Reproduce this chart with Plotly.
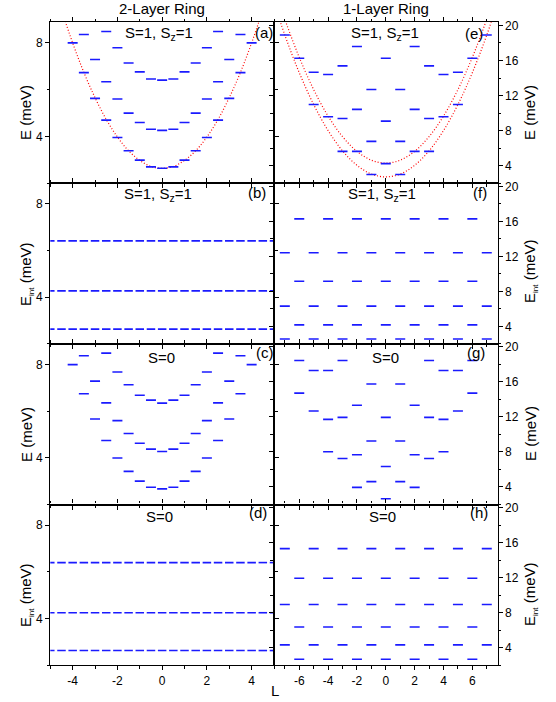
import plotly.graph_objects as go

W, H = 556, 702
BLUE = "#1a1aff"

# ---------------- data ----------------
# 2-layer ring (L in half-integer steps)
L_a1 = [-4, -3.5, -3, -2.5, -2, -1.5, -1, -0.5, 0, 0.5, 1, 1.5, 2, 2.5, 3, 3.5, 4]
L_a2 = [-3.5, -3, -2.5, -2, -1.5, -1, -0.5, 0, 0.5, 1, 1.5, 2, 2.5, 3, 3.5]
L_a3 = [-2.5, -2, -1.5, -1, -0.5, 0, 0.5, 1, 1.5, 2, 2.5]

a_band1 = [8.00, 6.73, 5.63, 4.70, 3.96, 3.39, 2.99, 2.70, 2.64, 2.70, 2.99, 3.39, 3.96, 4.70, 5.63, 6.73, 8.00]
a_band2 = [8.36, 7.29, 6.34, 5.60, 5.00, 4.60, 4.31, 4.26, 4.31, 4.60, 5.00, 5.60, 6.34, 7.29, 8.36]
a_band3 = [8.49, 7.79, 7.14, 6.76, 6.46, 6.41, 6.46, 6.76, 7.14, 7.79, 8.49]

c_band1 = [7.99, 6.74, 5.66, 4.74, 3.99, 3.42, 3.00, 2.74, 2.67, 2.74, 3.00, 3.42, 3.99, 4.74, 5.66, 6.74, 7.99]
c_band2 = [8.37, 7.28, 6.35, 5.59, 5.04, 4.62, 4.37, 4.27, 4.37, 4.62, 5.04, 5.59, 6.35, 7.28, 8.37]
c_band3 = [8.48, 7.67, 7.13, 6.68, 6.47, 6.34, 6.47, 6.68, 7.13, 7.67, 8.48]

# guide parabola in (a)
curve_a_L = [-5, -4.5, -4, -3.5, -3, -2.5, -2, -1.5, -1, -0.5, 0, 0.5, 1, 1.5, 2, 2.5, 3, 3.5, 4, 4.5, 5]
curve_a_E = [11.02, 9.42, 8.00, 6.74, 5.66, 4.73, 3.98, 3.39, 2.98, 2.72, 2.64, 2.72, 2.98, 3.39, 3.98, 4.73, 5.66, 6.74, 8.00, 9.42, 11.02]

# interaction energies, 2-layer ring
L_half = [-5, -4.5, -4, -3.5, -3, -2.5, -2, -1.5, -1, -0.5, 0, 0.5, 1, 1.5, 2, 2.5, 3, 3.5, 4, 4.5, 5]
b_levels = [2.63, 4.27, 6.41]
d_levels = [2.62, 4.24, 6.39]

# 1-layer ring (integer L)
e_L = [-7, -6, -5, -5, -4, -4, -3, -3, -3, -2, -2, -2, -1, -1, -1, 0, 0, 0,
       1, 1, 1, 2, 2, 2, 3, 3, 3, 4, 4, 5, 5, 6, 7]
e_E = [18.9, 16.25, 14.66, 10.98, 14.4, 9.58, 15.38, 9.39, 5.64, 17.6, 10.42, 5.64, 12.69, 6.78, 3.0, 16.25, 9.09, 4.24,
       12.69, 6.78, 3.0, 17.6, 10.42, 5.64, 15.38, 9.39, 5.64, 14.4, 9.58, 14.66, 10.98, 16.25, 18.9]

curve_e_L = [-8, -7, -6, -5, -4, -3, -2, -1, 0, 1, 2, 3, 4, 5, 6, 7, 8]
curve_e1_E = [23.85, 18.90, 14.61, 10.98, 8.01, 5.70, 4.05, 3.06, 2.73, 3.06, 4.05, 5.70, 8.01, 10.98, 14.61, 18.90, 23.85]
curve_e2_E = [25.74, 20.72, 16.36, 12.68, 9.66, 7.32, 5.64, 4.64, 4.30, 4.64, 5.64, 7.32, 9.66, 12.68, 16.36, 20.72, 25.74]

g_L = [-6, -6, -5, -5, -4, -4, -4, -3, -3, -3, -2, -2, -2, -1, -1, -1, 0, 0, 0,
       1, 1, 1, 2, 2, 2, 3, 3, 3, 4, 4, 4, 5, 5, 6, 6]
g_E = [18.45, 14.72, 17.3, 12.68, 17.3, 11.72, 8.03, 18.45, 11.95, 7.26, 13.34, 7.68, 3.95, 15.76, 9.25, 4.61, 11.95, 6.34, 2.65,
       15.76, 9.25, 4.61, 13.34, 7.68, 3.95, 18.45, 11.95, 7.26, 17.3, 11.72, 8.03, 17.3, 12.68, 18.45, 14.72]

L_odd = [-7, -5, -3, -1, 1, 3, 5, 7]
L_even = [-6, -4, -2, 0, 2, 4, 6]
f_levels_odd = [2.55, 6.31, 12.41]
f_levels_even = [4.16, 9.15, 16.28]
h_levels_odd = [4.30, 8.91, 15.31]
h_levels_even = [2.66, 6.35, 11.92]

# tick labels
xt_left = [-4, -2, 0, 2, 4]
xt_right = [-6, -4, -2, 0, 2, 4, 6]
yt_left = [4, 8]
yt_right = [4, 8, 12, 16, 20]

# ---------------- figure ----------------
fig = go.Figure()

# plotly's "line-ew" symbol is 1.4 x size long
DASH_A = 10 / 1.4     # ~10 px dashes
DASH_B = 8.5 / 1.4    # ~8.5 px dashes (dense levels)


def dashes(xs, ys, i, size=DASH_A):
    fig.add_trace(go.Scatter(
        x=xs, y=ys, mode="markers", xaxis=f"x{i}", yaxis=f"y{i}",
        marker=dict(symbol="line-ew", size=size, color=BLUE,
                    line=dict(width=1.6, color=BLUE)),
        hoverinfo="skip", showlegend=False))


def curve(xs, ys, i):
    fig.add_trace(go.Scatter(
        x=xs, y=ys, mode="lines", xaxis=f"x{i}", yaxis=f"y{i}",
        line=dict(color="red", width=1.2, dash="1px,2px", shape="spline"),
        hoverinfo="skip", showlegend=False))


def levels(Ls, levs, i, size=DASH_A):
    xs, ys = [], []
    for lev in levs:
        for L in Ls:
            xs.append(L)
            ys.append(lev)
    dashes(xs, ys, i, size)


# (a)
curve(curve_a_L, curve_a_E, 1)
dashes(L_a1 + L_a2 + L_a3, a_band1 + a_band2 + a_band3, 1)
# (b)
levels(L_half, b_levels, 2, DASH_B)
# (c)
dashes(L_a1 + L_a2 + L_a3, c_band1 + c_band2 + c_band3, 3)
# (d)
levels(L_half, d_levels, 4, DASH_B)
# (e)
curve(curve_e_L, curve_e1_E, 5)
curve(curve_e_L, curve_e2_E, 5)
dashes(e_L, e_E, 5)
# (f)
levels(L_odd, f_levels_odd, 6)
levels(L_even, f_levels_even, 6)
# (g)
dashes(g_L, g_E, 7)
# (h)
levels(L_odd, h_levels_odd, 8)
levels(L_even, h_levels_even, 8)

# ---------------- layout ----------------
xl = [50.3 / W, 274.0 / W]
xr = [274.0 / W, 497.6 / W]
rows = [(22.3, 183.3), (183.3, 343.8), (343.8, 504.5), (504.5, 665.0)]

axis_common = dict(showline=True, linecolor="black", linewidth=1.2, mirror="ticks",
                   ticks="outside", ticklen=4, tickwidth=1.1, tickcolor="black",
                   showgrid=False, zeroline=False,
                   tickfont=dict(size=12, color="black"))

layout = dict(width=W, height=H, margin=dict(l=0, r=0, t=0, b=0),
              paper_bgcolor="white", plot_bgcolor="white", template="none",
              font=dict(family="Liberation Sans, Arial, sans-serif", size=12, color="black"),
              showlegend=False)

for k in range(8):
    i = k + 1
    left = k < 4
    r = k % 4
    y0, y1 = rows[r]
    xd = xl if left else xr
    yd = [1 - y1 / H, 1 - y0 / H]
    xtv = xt_left if left else xt_right
    ytv = yt_left if left else yt_right
    xa = dict(axis_common, domain=xd, anchor=f"y{i}",
              range=[-5, 5] if left else [-7.75, 7.75],
              tickmode="array", tickvals=xtv, ticktext=[str(v) for v in xtv],
              minor=dict(dtick=1, tick0=0, ticklen=2.5, ticks="outside", tickcolor="black"),
              showticklabels=(r == 3))
    ya = dict(axis_common, domain=yd, anchor=f"x{i}",
              range=[2, 8.88] if left else [2, 20.35],
              tickmode="array", tickvals=ytv, ticktext=[str(v) for v in ytv],
              minor=dict(dtick=2, tick0=0, ticklen=2.5, ticks="outside", tickcolor="black"),
              side="left" if left else "right")
    layout[f"xaxis{i}"] = xa
    layout[f"yaxis{i}"] = ya

fig.update_layout(**layout)

ann = []


def txt(x, y, s, size=15, angle=0, xanchor="center"):
    ann.append(dict(x=x / W, y=1 - y / H, xref="paper", yref="paper", text=s,
                    showarrow=False, font=dict(size=size, color="black"),
                    textangle=angle, xanchor=xanchor, yanchor="middle"))


txt(162, 8, "2-Layer Ring")
txt(385.5, 8, "1-Layer Ring")
txt(275, 690, "L")

SZ = "S=1, S<sub>z</sub>=1"
txt(159, 33, SZ)
txt(384.5, 33, SZ)
txt(158, 194, SZ)
txt(381.5, 194, SZ)
txt(161.5, 357, "S=0")
txt(385, 357, "S=0")
txt(159, 516, "S=0")
txt(382.5, 516, "S=0")

txt(264, 32, "(a)")
txt(257, 192, "(b)")
txt(264.5, 352, "(c)")
txt(257.5, 512.5, "(d)")
txt(474, 33, "(e)")
txt(480, 192, "(f)")
txt(476, 352, "(g)")
txt(479, 512.5, "(h)")

EI = "E<sub><span style='font-size:8px'>int</span></sub> (meV)"
txt(26, 113, "E (meV)", angle=-90)
txt(26, 275, EI, angle=-90)
txt(26, 435, "E (meV)", angle=-90)
txt(26, 596, EI, angle=-90)
txt(530, 113, "E (meV)", angle=-90)
txt(530, 272, EI, angle=-90)
txt(530, 434, "E (meV)", angle=-90)
txt(530, 595, EI, angle=-90)

fig.update_layout(annotations=ann)
fig.write_html("out.html", config={"displayModeBar": False},
               post_script="document.body.style.margin='0';document.body.style.padding='0';")
